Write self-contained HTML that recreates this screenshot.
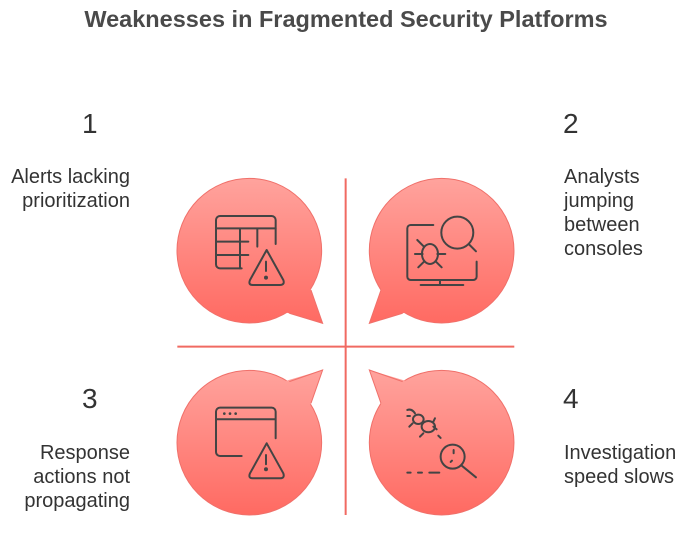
<!DOCTYPE html>
<html><head><style>
body{margin:0;width:686px;height:544px;background:#fff;overflow:hidden;position:relative;font-family:"Liberation Sans",sans-serif;color:#333}
.t{position:absolute;white-space:nowrap}
</style></head><body>
<div class="t" style="left:0;width:692px;top:6px;text-align:center;font-weight:bold;font-size:23.5px;color:#4a4a4a">Weaknesses in Fragmented Security Platforms</div>
<div class="t" style="left:82px;top:108px;font-size:28px">1</div>
<div class="t" style="left:563px;top:108px;font-size:28px">2</div>
<div class="t" style="left:82px;top:383px;font-size:28px">3</div>
<div class="t" style="left:563px;top:383px;font-size:28px">4</div>
<div class="t" style="right:556px;top:165px;font-size:20px;text-align:right;line-height:24px">Alerts lacking<br>prioritization</div>
<div class="t" style="left:564px;top:165px;font-size:20px;line-height:24px">Analysts<br>jumping<br>between<br>consoles</div>
<div class="t" style="right:556px;top:441px;font-size:20px;text-align:right;line-height:24px">Response<br>actions not<br>propagating</div>
<div class="t" style="left:564px;top:441px;font-size:20px;line-height:24px">Investigation<br>speed slows</div>
<svg width="686" height="544" style="position:absolute;left:0;top:0">
<defs>
<linearGradient id="g1" gradientUnits="userSpaceOnUse" x1="0" y1="25" x2="0" y2="460"><stop offset="0" stop-color="#ffa39d"/><stop offset="1" stop-color="#ff6a62"/></linearGradient>
<linearGradient id="g2" gradientUnits="userSpaceOnUse" x1="0" y1="600" x2="0" y2="1035"><stop offset="0" stop-color="#ffa39d"/><stop offset="1" stop-color="#ff6a62"/></linearGradient>
</defs>
<g transform="translate(170,170) scale(0.3333)">
<g stroke="#f0706a" stroke-width="3">
<circle cx="238" cy="242" r="217" fill="url(#g1)"/>
<circle cx="815" cy="242" r="217" fill="url(#g1)"/>
<circle cx="238" cy="818" r="217" fill="url(#g2)"/>
<circle cx="815" cy="818" r="217" fill="url(#g2)"/>
</g>
<g stroke="none">
<polygon points="415,340 458,460 340,425" fill="url(#g1)"/>
<polygon points="640,340 598,460 715,425" fill="url(#g1)"/>
<polygon points="415,720 458,600 340,635" fill="url(#g2)"/>
<polygon points="640,720 598,600 715,635" fill="url(#g2)"/>
</g>
<g stroke="#f0706a" stroke-width="3" fill="none">
<path d="M423,360 L458,460 L358,430"/>
<path d="M633,360 L598,460 L698,430"/>
<path d="M423,700 L458,600 L358,635"/>
<path d="M633,700 L598,600 L698,635"/>
</g>
<g stroke="#f06a62" stroke-width="6"><line x1="527" y1="25" x2="527" y2="1035"/><line x1="22" y1="530" x2="1033" y2="530"/></g>
<g fill="none" stroke="#444" stroke-width="6" stroke-linecap="round" stroke-linejoin="round">
<path d="M215,295 H150 a12,12 0 0 1 -12,-12 V150 a12,12 0 0 1 12,-12 H305 a12,12 0 0 1 12,12 V222"/>
<path d="M138,175 H317 M138,215 H235 M138,255 H235 M210,175 V295 M262,175 V230"/>
<path d="M290,240 L340,330 Q345,345 330,345 H248 Q234,345 240,330 Z M288,275 V303"/><circle cx="288" cy="323" r="3" fill="#444"/>
<path d="M790,165 H722 a10,10 0 0 0 -10,10 V320 a10,10 0 0 0 10,10 H910 a10,10 0 0 0 10,-10 V275 M810,330 V345 M752,345 H880"/>
<circle cx="862" cy="188" r="48"/><path d="M896,222 L918,244"/>
<ellipse cx="780" cy="252" rx="24" ry="30"/><path d="M758,252 H735 M802,252 H826 M762,230 L742,210 M762,275 L745,292 M798,275 L815,292"/>
<path d="M215,858 H150 a12,12 0 0 1 -12,-12 V725 a12,12 0 0 1 12,-12 H305 a12,12 0 0 1 12,12 V805 M138,748 H317"/>
<path d="M290,820 L340,910 Q345,925 330,925 H248 Q234,925 240,910 Z M288,855 V883"/><circle cx="288" cy="898" r="3" fill="#444"/>
<circle cx="848" cy="860" r="36"/><path d="M874,886 L918,922 M851,840 V850 M846,872 L842,876 M712,908 H722 M744,908 H756 M778,908 H808 M805,797 L812,804"/>
<ellipse cx="775" cy="770" rx="20" ry="17"/><ellipse cx="745" cy="748" rx="16" ry="14"/><path d="M735,730 Q725,715 712,720 M720,738 L712,738 M728,760 L718,770 M760,790 L750,800 M790,755 L795,745 M790,770 L800,778"/>
</g>
<g fill="#444"><circle cx="163" cy="731" r="4"/><circle cx="180" cy="731" r="4"/><circle cx="197" cy="731" r="4"/></g>
</g>
</svg>
</body></html>
